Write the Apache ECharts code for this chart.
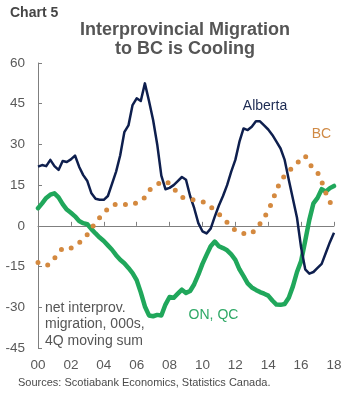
<!DOCTYPE html>
<html>
<head>
<meta charset="utf-8">
<script src="https://cdn.jsdelivr.net/npm/echarts@6/dist/echarts.min.js"></script>
<style>
html,body{margin:0;padding:0;background:#fff;}
#c{width:363px;height:407px;}
</style>
</head>
<body>
<div id="c"></div>
<script>
// Quarterly categories 2000Q1 .. 2018Q1
const quarters = [];
for (let y = 2000; y <= 2018; y++) {
  for (let q = 1; q <= 4; q++) {
    if (y === 2018 && q > 1) break;
    quarters.push(y + 'Q' + q);
  }
}
const yTicks = { min: -45, max: 60, step: 15 };

// net interprovincial migration, 000s, 4Q moving sum
const alberta = [
  21.8, 22.4, 22.0, 24.3, 22.0, 20.6, 23.9, 23.5,
  24.5, 25.9, 21.8, 18.7, 16.5, 12.0, 10.0, 9.6,
  9.6, 11.0, 15.5, 20.0, 26.0, 34.5, 37.0, 44.5,
  47.0, 46.0, 52.5, 46.0, 39.0, 30.0, 18.5, 13.5,
  14.0, 15.0, 16.5, 18.0, 17.0, 11.0, 6.5, 1.0,
  -2.0, -2.8, -1.0, 3.4, 7.5, 11.0, 15.0, 20.0,
  24.3, 31.0, 35.9, 35.3, 36.5, 38.5, 38.5, 37.0,
  35.5, 33.5, 31.0, 28.5, 24.3, 17.0, 10.0, 3.0,
  -8.0, -16.0, -17.6, -17.0, -15.5, -14.0, -10.0, -6.0,
  -2.5
];
const onqc = [
  6.5, 8.3, 10.3, 11.5, 12.0, 10.5, 8.0, 6.0,
  4.8, 3.5, 1.8, 1.0, 0.6, -1.2, -2.8, -4.3,
  -5.6, -7.2, -8.8, -10.8, -12.5, -13.8, -15.5, -17.4,
  -20.0, -24.5, -29.7, -33.0, -33.3, -32.8, -33.0, -29.0,
  -26.2, -26.5, -25.0, -23.5, -24.7, -24.0, -21.5, -18.0,
  -14.0, -10.7, -7.5, -5.8, -7.5, -8.2, -9.0, -10.5,
  -12.5, -16.0, -18.5, -21.2, -22.7, -23.6, -24.4, -25.0,
  -25.7, -27.5, -29.0, -29.1, -28.8, -26.5, -22.3, -17.0,
  -13.0, -5.5, 2.2, 8.3, 10.3, 13.5, 12.6, 13.9,
  14.7
];
const bc = [
  -13.5, -14.2, -14.7, -14.0, -12.0, -10.0, -8.2, -8.0,
  -8.2, -7.5, -6.2, -5.0, -3.2, -1.0, 1.2, 3.0,
  4.7, 6.3, 7.6, 8.0, 8.3, 8.0, 7.6, 7.8,
  8.5, 8.9, 10.5, 13.0, 14.3, 15.3, 16.0, 16.6,
  15.5, 13.8, 12.0, 10.6, 10.0, 9.7, 9.6, 9.3,
  8.9, 8.4, 7.0, 5.8, 4.4, 2.9, 1.3, -0.3,
  -1.7, -2.6, -2.8, -3.2, -2.8, -1.0, 0.8, 3.0,
  5.6, 9.0, 13.2, 16.3, 18.5, 20.1, 21.6, 23.0,
  24.8, 25.8, 22.8, 21.2, 19.7, 16.3, 12.2, 8.8,
  6.8
];

const chart = echarts.init(document.getElementById('c'), null, { renderer: 'canvas' });
const font = 'Liberation Sans, Arial, sans-serif';
const axisGray = '#7f7f7f';
const labelGray = '#595959';

chart.setOption({
  backgroundColor: '#ffffff',
  animation: false,
  textStyle: { fontFamily: font },
  grid: { left: 38, right: 29, top: 63, bottom: 59, containLabel: false },
  xAxis: [
    {
      type: 'category', data: quarters, boundaryGap: false, position: 'bottom',
      axisLine: { show: false, onZero: false },
      axisTick: { show: false },
      axisLabel: {
        interval: 7, margin: 10, fontSize: 13.5, color: labelGray, fontFamily: font,
        formatter: v => v.slice(2, 4)
      },
      splitLine: { show: false }
    },
    {
      type: 'category', data: quarters, boundaryGap: false, position: 'top',
      axisLine: { show: true, onZero: true, lineStyle: { color: axisGray, width: 1 } },
      axisTick: { show: true, interval: 7, length: 4, inside: false, lineStyle: { color: axisGray } },
      axisLabel: { show: false },
      splitLine: { show: false }
    }
  ],
  yAxis: {
    type: 'value', min: yTicks.min, max: yTicks.max, interval: yTicks.step,
    axisLine: { show: true, lineStyle: { color: axisGray, width: 1 } },
    axisTick: { show: true, inside: true, length: 4, lineStyle: { color: axisGray } },
    axisLabel: { fontSize: 13.5, color: labelGray, margin: 13, fontFamily: font },
    splitLine: { show: false }
  },
  series: [
    {
      name: 'ON, QC', type: 'line', data: onqc, xAxisIndex: 0, showSymbol: false, symbol: 'none',
      lineStyle: { color: '#20a75b', width: 4.5, join: 'round', cap: 'round' }, z: 2
    },
    {
      name: 'Alberta', type: 'line', data: alberta, xAxisIndex: 0, showSymbol: false, symbol: 'none',
      lineStyle: { color: '#0e1f4e', width: 2.5, join: 'round' }, z: 3
    },
    {
      name: 'BC', type: 'line', data: bc, xAxisIndex: 0, showSymbol: false, symbol: 'none',
      lineStyle: { color: '#d4893f', width: 5, type: [0, 10.5], cap: 'round' }, z: 4
    }
  ],
  graphic: [
    { type: 'text', left: 10, top: 6, style: { text: 'Chart 5', font: 'bold 14px ' + font, fill: '#454545' } },
    { type: 'text', x: 185, y: 30.5, style: { text: 'Interprovincial Migration', font: 'bold 18px ' + font, fill: '#555555', align: 'center', verticalAlign: 'middle' } },
    { type: 'text', x: 185, y: 49.5, style: { text: 'to BC is Cooling', font: 'bold 18px ' + font, fill: '#555555', align: 'center', verticalAlign: 'middle' } },
    { type: 'text', x: 265, y: 106, style: { text: 'Alberta', font: '14px ' + font, fill: '#1c2a52', align: 'center', verticalAlign: 'middle' } },
    { type: 'text', x: 321.5, y: 134, style: { text: 'BC', font: '14px ' + font, fill: '#d08a45', align: 'center', verticalAlign: 'middle' } },
    { type: 'text', x: 213.5, y: 315, style: { text: 'ON, QC', font: '14px ' + font, fill: '#2ea866', align: 'center', verticalAlign: 'middle' } },
    { type: 'text', x: 45, y: 308, style: { text: 'net interprov.', font: '14px ' + font, fill: '#555555', verticalAlign: 'middle' } },
    { type: 'text', x: 45, y: 324.5, style: { text: 'migration, 000s,', font: '14px ' + font, fill: '#555555', verticalAlign: 'middle' } },
    { type: 'text', x: 45, y: 341, style: { text: '4Q moving sum', font: '14px ' + font, fill: '#555555', verticalAlign: 'middle' } },
    { type: 'text', x: 18, y: 383, style: { text: 'Sources: Scotiabank Economics, Statistics Canada.', font: '11px ' + font, fill: '#4a4a4a', verticalAlign: 'middle' } }
  ]
});
</script>
</body>
</html>
